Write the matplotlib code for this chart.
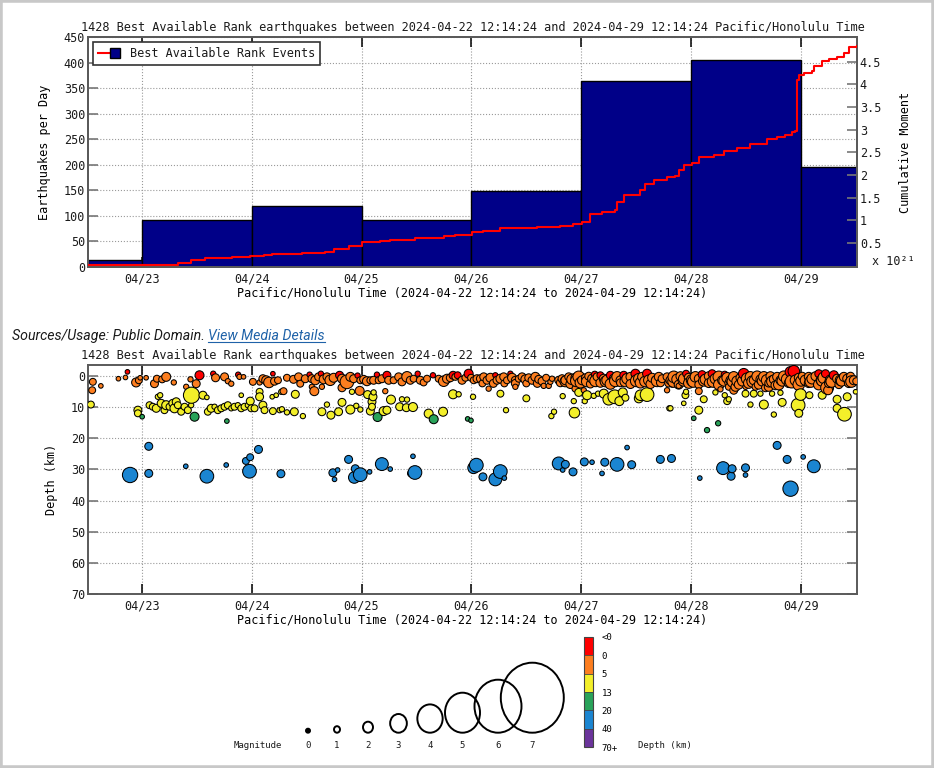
from datetime import datetime
import numpy as np
import matplotlib
matplotlib.use("Agg")
import matplotlib.pyplot as plt
import matplotlib.dates as mdates
from matplotlib.colors import ListedColormap, BoundaryNorm
from matplotlib.cm import ScalarMappable
from matplotlib.patches import Ellipse, Rectangle
from matplotlib.lines import Line2D
from matplotlib.legend_handler import HandlerTuple
from matplotlib.ticker import FormatStrFormatter

# times are fractional day of April 2024, Pacific/Honolulu
t_start, t_end = 22.510, 29.510

# events per day (histogram)
bin_edges = [22.510, 23, 24, 25, 26, 27, 28, 29, 29.510]
day_counts = [13, 92, 120, 92, 148, 363, 405, 195]

# cumulative moment, x 1e21
moment_day = [22.510, 23.106, 23.333, 23.446, 23.577, 23.820, 23.986, 24.108, 24.184, 24.457,
              24.669, 24.745, 24.882, 25.004, 25.170, 25.261, 25.489, 25.747, 25.853, 26.005,
              26.108, 26.263, 26.597, 26.809, 26.928, 27.007, 27.083, 27.189, 27.311, 27.326,
              27.386, 27.537, 27.582, 27.659, 27.781, 27.856, 27.887, 27.933, 28.009, 28.069,
              28.206, 28.297, 28.419, 28.540, 28.661, 28.692, 28.783, 28.859, 28.920, 28.950,
              28.965, 28.980, 29.025, 29.102, 29.117, 29.193, 29.253, 29.330, 29.390, 29.435,
              29.510]
moment_val = [0.01, 0.02, 0.05, 0.11, 0.16, 0.19, 0.20, 0.23, 0.25, 0.28,
              0.30, 0.36, 0.42, 0.52, 0.54, 0.57, 0.61, 0.66, 0.68, 0.73,
              0.76, 0.82, 0.84, 0.88, 0.91, 0.96, 1.13, 1.17, 1.22, 1.41,
              1.55, 1.67, 1.80, 1.89, 1.96, 1.98, 2.11, 2.22, 2.26, 2.40,
              2.44, 2.54, 2.59, 2.68, 2.69, 2.79, 2.83, 2.88, 2.96, 2.97,
              4.10, 4.21, 4.25, 4.29, 4.40, 4.51, 4.56, 4.61, 4.70, 4.82,
              4.86]

# events (day, depth km, magnitude)
ev_0422 = [
    (22.554, 1.9, 1.0), (22.548, 4.6, 1.0), (22.627, 3.2, 0.0), (22.787, 0.9, 0.0), (22.851, 0.5, 0.0),
    (22.869, -1.3, 0.0), (22.948, 2.1, 1.4), (22.973, 1.4, 1.0), (22.985, 0.6, 0.0), (23.039, 0.6, 0.0),
    (23.115, 2.5, 1.2), (23.137, 0.9, 1.0), (23.185, 1.1, 1.0), (23.222, 0.3, 1.4), (23.291, 2.1, 0.3),
    (23.404, 3.5, 0.3), (23.443, 1.1, 0.3), (23.495, 2.5, 1.2), (23.525, -0.2, 1.4), (23.650, -0.7, 0.3),
    (23.671, 0.6, 1.2), (23.753, 0.3, 1.2), (23.783, 1.7, 0.3), (23.814, 2.5, 0.3), (23.877, -0.4, 0.3),
    (23.889, 0.3, 0.3), (23.926, 0.3, 0.0), (24.011, 1.9, 1.0), (24.072, 2.1, 0.3), (24.102, 0.9, 1.2),
    (24.132, 1.4, 1.4), (24.157, 2.1, 1.7), (24.193, -0.7, 0.0), (24.208, 1.7, 1.2), (24.239, 1.4, 1.0),
    (22.536, 9.2, 1.0), (22.964, 11.0, 1.2), (22.964, 12.0, 1.0), (23.003, 13.1, 0.0), (23.070, 9.4, 1.0),
    (23.100, 9.9, 1.0), (23.131, 10.4, 1.2), (23.146, 6.7, 0.3), (23.167, 6.2, 0.3), (23.176, 8.8, 1.2),
    (23.206, 11.0, 1.0), (23.222, 9.4, 1.4), (23.252, 9.9, 1.0), (23.282, 8.8, 1.2), (23.297, 10.4, 1.4),
    (23.313, 8.3, 1.2), (23.328, 9.4, 1.0), (23.358, 11.5, 1.0), (23.389, 9.9, 1.0), (23.419, 11.0, 1.0),
    (23.449, 9.4, 0.3), (23.452, 6.2, 2.5), (23.556, 6.2, 1.2), (23.592, 6.9, 0.0), (23.480, 13.1, 1.4),
    (23.601, 11.5, 1.0), (23.631, 10.4, 1.2), (23.662, 9.9, 0.3), (23.692, 11.0, 1.0), (23.723, 10.4, 1.0),
    (23.753, 9.9, 1.0), (23.783, 9.4, 1.0), (23.814, 10.4, 0.3), (23.844, 9.9, 1.0), (23.874, 9.4, 0.3),
    (23.905, 10.4, 1.0), (23.935, 9.9, 1.0), (23.965, 9.4, 0.3), (23.996, 10.4, 1.0), (24.026, 10.4, 1.0),
    (23.774, 14.5, 0.0), (23.905, 6.2, 0.0), (23.987, 8.1, 1.2), (24.072, 5.1, 1.0), (24.072, 6.7, 1.2),
    (24.102, 9.4, 1.2), (24.117, 11.0, 1.0), (24.187, 6.7, 0.0), (24.223, 6.2, 0.0), (24.269, 5.1, 0.3),
    (24.193, 11.3, 1.0), (24.254, 11.0, 0.3),
]

ev_0424 = [
    (24.290, 4.9, 1.0), (24.321, 0.6, 1.0), (24.381, 1.1, 1.2), (24.427, 0.3, 1.2), (24.442, 2.5, 1.0),
    (24.488, 0.9, 1.2), (24.527, -0.4, 0.3), (24.548, 0.9, 1.2), (24.579, 1.4, 1.4), (24.609, 0.3, 1.2),
    (24.630, -0.7, 0.3), (24.655, 1.1, 1.4), (24.685, 0.3, 1.2), (24.715, 1.4, 1.7), (24.746, 0.6, 1.4),
    (24.800, -0.2, 1.2), (24.822, 0.9, 1.4), (24.867, 1.9, 2.2), (24.898, 0.3, 1.4), (24.928, 0.9, 1.2),
    (24.964, -0.1, 0.3), (24.989, 1.4, 1.0), (25.019, 1.1, 1.2), (25.049, 1.7, 1.4), (25.080, 1.4, 1.0),
    (25.110, 1.4, 1.2), (25.140, -0.4, 0.3), (25.156, 1.4, 1.0), (25.186, 0.9, 1.2), (25.231, -0.2, 1.2),
    (25.247, 1.4, 1.2), (25.292, 1.4, 1.0), (25.338, 0.3, 1.2), (25.368, 1.9, 1.2), (25.414, 0.3, 1.7),
    (25.444, 1.4, 1.2), (25.474, 0.9, 1.0), (25.511, -0.7, 0.3), (25.535, 1.4, 1.2), (25.565, 2.1, 1.0),
    (25.596, 0.9, 1.0), (25.650, -0.2, 0.3), (25.702, 0.9, 1.0), (25.748, 1.7, 1.7), (25.778, 0.9, 1.4),
    (25.808, 0.6, 1.2), (25.833, -0.2, 1.2), (25.854, 0.3, 1.0), (25.875, -0.2, 1.0), (25.915, 1.4, 1.2),
    (25.945, 0.6, 1.0), (25.975, -0.7, 1.4), (25.997, 0.6, 1.0), (26.021, 1.4, 1.0), (26.051, 0.9, 1.2),
    (24.548, 3.5, 0.3), (24.570, 4.9, 1.4), (24.639, 3.5, 0.3), (24.822, 3.8, 1.2), (24.983, 4.8, 1.4),
    (25.216, 4.9, 0.3),
    (24.397, 5.9, 1.2), (24.913, 5.1, 0.3), (25.055, 6.0, 1.2), (25.110, 5.3, 0.3), (25.104, 6.7, 1.2),
    (25.095, 8.3, 1.2), (25.268, 7.6, 1.4), (25.368, 7.5, 0.3), (25.414, 7.6, 0.3), (25.833, 5.9, 1.4),
    (25.884, 5.9, 0.3), (26.015, 6.7, 0.3), (24.275, 10.7, 0.3), (24.321, 11.7, 0.3), (24.388, 11.5, 1.2),
    (24.466, 12.9, 0.3), (24.639, 11.5, 1.2), (24.685, 9.2, 0.3), (24.721, 12.6, 1.2), (24.791, 11.5, 1.2),
    (24.822, 8.5, 1.2), (24.898, 10.8, 1.4), (24.952, 9.6, 0.3), (24.989, 10.8, 0.3), (25.080, 11.3, 1.2),
    (25.095, 9.9, 1.0), (25.201, 11.3, 1.4), (25.231, 11.0, 1.2), (25.347, 9.9, 1.2), (25.408, 10.2, 1.2),
    (25.468, 10.0, 1.4), (25.611, 12.1, 1.4), (25.742, 11.5, 1.4),
    (25.146, 13.2, 1.4), (25.657, 13.9, 1.4), (25.966, 13.8, 0.0), (25.996, 14.3, 0.0),
]

ev_0426 = [
    (26.082, 0.9, 1.2), (26.112, 0.3, 1.2), (26.142, 1.4, 1.2), (26.173, 0.6, 1.4), (26.218, -0.2, 0.3),
    (26.233, 1.4, 1.2), (26.264, 0.9, 1.4), (26.294, 0.3, 1.2), (26.324, 1.4, 1.0), (26.355, -0.7, 0.3),
    (26.370, 0.6, 1.4), (26.400, 1.4, 1.2), (26.431, 0.9, 1.0), (26.461, 0.3, 1.2), (26.491, 1.1, 1.4),
    (26.522, 0.6, 1.2), (26.552, 1.4, 1.2), (26.582, 0.3, 1.4), (26.613, 1.1, 1.2), (26.643, 1.7, 1.2),
    (26.680, 0.6, 1.0), (26.719, 1.9, 0.3), (26.658, 3.2, 0.3), (26.704, 3.2, 0.3), (26.734, 0.9, 0.3),
    (26.795, 1.4, 1.2), (26.825, 0.9, 1.2), (26.856, 1.4, 1.4), (26.886, 0.3, 1.2), (26.916, 1.1, 1.7),
    (26.947, 0.6, 1.4), (26.977, 0.3, 1.9), (27.007, 1.4, 1.4), (27.038, 0.6, 1.2), (27.068, 0.1, 1.2),
    (27.099, 0.9, 1.4), (27.123, -0.4, 1.0), (27.144, 0.3, 1.2), (27.174, -0.2, 1.0), (27.205, 0.9, 1.4),
    (27.235, 1.4, 1.7), (27.265, -0.2, 1.2), (27.296, 0.9, 1.4), (27.326, 0.3, 1.7), (27.357, 1.4, 1.4),
    (27.387, -0.2, 1.2), (27.417, 0.9, 1.7), (27.448, 0.3, 1.4), (27.493, -0.7, 1.4), (27.524, 0.9, 1.7),
    (27.554, 0.3, 1.4), (27.599, -0.7, 1.4), (27.615, 1.4, 1.7), (27.645, 0.6, 1.4), (27.675, 1.4, 1.2),
    (27.706, 0.3, 1.4), (27.736, 0.9, 1.2),
    (26.810, 2.2, 1.2), (26.901, 2.6, 1.4), (26.992, 2.2, 1.7), (27.083, 2.6, 1.2), (27.174, 2.2, 1.4),
    (27.265, 2.6, 1.7), (27.357, 2.2, 1.2), (27.448, 2.6, 1.4), (27.539, 2.2, 1.7), (27.630, 2.6, 1.4),
    (27.721, 2.2, 1.2), (26.10, 2.4, 1.0), (26.20, 2.4, 1.2), (26.30, 2.4, 1.0), (26.40, 2.4, 1.2),
    (26.50, 2.4, 1.0), (26.60, 2.4, 1.2),
    (26.855, 1.8, 1.7), (26.955, 1.6, 1.9), (27.050, 1.8, 1.7), (27.130, 1.6, 1.9), (27.220, 1.8, 1.7),
    (27.310, 1.6, 1.9), (27.400, 1.8, 1.7), (27.500, 1.6, 1.9), (27.580, 1.8, 1.7), (27.690, 1.6, 1.9),
    (26.157, 4.1, 0.3), (26.400, 3.5, 0.3), (26.947, 4.1, 1.0), (27.023, 4.6, 0.3),
    (26.264, 5.7, 1.0), (26.500, 7.2, 1.0), (26.315, 11.0, 0.3), (26.831, 6.5, 0.3), (26.752, 11.5, 0.3),
    (26.728, 12.9, 0.3), (26.938, 11.8, 1.7), (26.932, 8.1, 0.3), (26.977, 5.3, 1.2), (27.032, 8.1, 0.3),
    (27.053, 6.2, 1.4), (27.114, 6.4, 0.3), (27.153, 5.7, 0.3), (27.205, 5.7, 1.4), (27.250, 7.5, 1.9),
    (27.305, 6.7, 2.2), (27.347, 8.1, 1.4), (27.378, 5.3, 1.4), (27.402, 7.0, 1.0), (27.524, 7.2, 1.4),
    (27.539, 6.2, 1.7), (27.599, 6.0, 2.2), (27.812, 10.4, 0.3),
]

ev_0428 = [
    (27.781, 0.3, 1.2), (27.812, 1.4, 1.4), (27.842, 0.3, 1.9), (27.872, 1.1, 1.7), (27.903, 0.1, 1.4),
    (27.933, 0.9, 1.7), (27.954, -0.7, 1.0), (27.979, 0.6, 1.4), (28.009, 1.4, 1.9), (28.039, 0.3, 1.7),
    (28.070, 0.9, 1.4), (28.100, -0.4, 1.2), (28.130, 1.1, 1.7), (28.161, 0.1, 1.4), (28.191, -0.7, 1.2),
    (28.221, 0.9, 1.7), (28.252, 0.3, 1.9), (28.282, 1.4, 1.4), (28.306, -0.4, 1.0), (28.328, 0.6, 1.7),
    (28.358, 1.4, 1.4), (28.388, 0.3, 1.7), (28.404, 3.5, 1.4), (28.419, 1.7, 1.7), (28.449, 0.6, 1.4),
    (28.479, -0.7, 1.7), (28.510, 0.9, 1.9), (28.540, 0.3, 1.7), (28.570, 1.4, 1.4), (28.586, 3.5, 1.0),
    (28.601, 0.1, 1.7), (28.631, 1.1, 1.4), (28.662, 0.3, 1.7), (28.692, 1.4, 1.9), (28.707, 3.5, 1.4),
    (28.722, 0.1, 1.4), (28.753, 1.1, 1.4), (28.783, 0.3, 1.4), (28.813, 1.4, 1.4), (28.844, 0.1, 1.7),
    (28.874, 1.1, 1.9), (28.904, -1.3, 1.7), (28.935, -1.5, 1.9), (28.950, 1.4, 1.7), (28.980, 0.6, 1.4),
    (29.011, 0.1, 1.2), (29.041, 1.4, 1.7), (29.071, 0.3, 1.4), (29.102, 0.9, 1.7), (29.132, 0.1, 1.4),
    (29.162, -0.7, 1.2), (29.178, 1.4, 1.4), (29.208, 0.6, 1.9), (29.223, -0.7, 1.2), (29.238, 3.8, 2.1),
    (29.247, 4.6, 1.4), (29.269, 1.4, 1.7), (29.299, -0.2, 1.4), (29.329, 0.9, 1.4), (29.360, 1.4, 1.7),
    (29.390, 0.3, 1.4), (29.421, 0.9, 1.4), (29.451, 0.1, 1.2), (29.481, 1.4, 1.4), (29.503, 1.7, 1.0),
    (27.796, 2.3, 1.2), (27.887, 2.8, 1.4), (27.979, 2.3, 1.7), (28.070, 2.8, 1.2), (28.161, 2.3, 1.4),
    (28.252, 2.8, 1.7), (28.343, 2.3, 1.2), (28.434, 2.8, 1.4), (28.525, 2.3, 1.7), (28.616, 2.8, 1.4),
    (28.707, 2.3, 1.2), (28.798, 2.8, 1.7), (28.889, 2.3, 1.4), (28.980, 2.8, 1.9), (29.071, 2.3, 1.4),
    (29.162, 2.8, 1.7), (29.254, 2.3, 1.4), (29.345, 2.8, 1.2), (29.436, 2.3, 1.4),
    (27.840, 1.8, 1.9), (27.930, 1.6, 1.7), (28.020, 1.8, 1.9), (28.115, 1.6, 1.7), (28.200, 1.8, 1.9),
    (28.300, 1.6, 1.7), (28.380, 1.8, 1.9), (28.470, 1.6, 1.7), (28.560, 1.8, 1.9), (28.650, 1.6, 1.7),
    (28.740, 1.8, 1.9), (28.830, 1.6, 1.7), (28.915, 1.8, 2.1), (29.000, 1.6, 1.7), (29.090, 1.8, 1.9),
    (29.190, 1.6, 1.7), (29.280, 1.8, 1.9), (29.370, 1.6, 1.7), (29.460, 1.8, 1.9),
    (27.781, 4.6, 0.3), (27.827, 2.8, 0.3), (27.887, 3.2, 0.3), (28.070, 4.9, 1.0), (28.267, 4.3, 0.3),
    (28.343, 3.5, 1.0), (28.388, 4.6, 1.2), (28.495, 3.5, 0.3), (28.677, 3.8, 1.2), (28.768, 3.0, 1.4),
    (27.948, 6.2, 1.0), (27.954, 5.1, 0.3), (28.115, 7.5, 1.0), (28.070, 11.0, 1.2), (27.933, 8.8, 0.0),
    (27.802, 10.4, 0.3), (28.221, 5.3, 0.3), (28.306, 6.2, 0.3), (28.328, 8.1, 1.0), (28.343, 7.5, 0.3),
    (28.495, 5.7, 1.0), (28.540, 9.2, 0.3), (28.570, 5.7, 1.0), (28.631, 5.7, 0.3), (28.662, 9.2, 1.4),
    (28.737, 5.7, 0.3), (28.753, 12.4, 0.3), (28.813, 5.4, 0.3), (28.829, 8.5, 1.2), (28.996, 6.0, 1.9),
    (28.974, 9.4, 2.2), (28.980, 12.0, 1.2), (29.077, 6.2, 1.0), (29.193, 6.2, 1.2), (29.329, 7.5, 1.2),
    (29.329, 10.4, 1.2), (29.421, 6.7, 1.2), (29.396, 12.3, 2.2), (29.497, 5.1, 0.0),
    (28.024, 13.6, 0.0), (28.246, 15.2, 0.3), (28.145, 17.4, 0.3),
]

ev_deep = [
    (22.893, 31.8, 2.4), (23.063, 22.6, 1.2), (23.063, 31.3, 1.2), (23.400, 29.0, 0.0), (23.592, 32.2, 2.2),
    (23.768, 28.6, 0.0), (23.947, 27.3, 1.0), (23.986, 26.1, 1.0), (23.980, 30.6, 2.2), (24.062, 23.6, 1.2),
    (24.266, 31.4, 1.2), (24.739, 31.1, 1.2), (24.782, 30.2, 0.0), (24.754, 33.2, 0.0), (24.882, 26.8, 1.2),
    (24.943, 29.8, 1.2), (24.934, 32.6, 1.9), (24.988, 31.7, 2.2), (25.073, 30.8, 0.0), (25.185, 28.3, 2.1),
    (25.261, 29.9, 0.0), (25.468, 25.8, 0.0), (25.450, 31.3, 1.0), (25.486, 31.0, 2.2), (26.020, 29.5, 1.9),
    (26.045, 28.65, 2.2), (26.105, 32.4, 1.2), (26.218, 33.2, 2.1), (26.263, 30.7, 2.2), (26.300, 32.8, 0.0),
    (26.795, 28.1, 2.1), (26.855, 28.4, 1.2), (26.831, 30.2, 0.0), (26.925, 30.8, 1.2), (27.028, 27.6, 1.2),
    (27.098, 27.7, 0.0), (27.189, 31.3, 0.0), (27.214, 27.7, 1.2), (27.326, 28.4, 2.2), (27.417, 23.0, 0.0),
    (27.459, 28.5, 1.2), (27.720, 26.8, 1.2), (27.821, 26.5, 1.2), (28.079, 32.8, 0.0), (28.291, 29.6, 2.1),
    (28.373, 29.8, 1.2), (28.364, 32.2, 1.2), (28.495, 29.5, 1.2), (28.495, 31.8, 0.0), (28.783, 22.3, 1.2),
    (28.874, 26.8, 1.2), (28.905, 36.2, 2.4), (29.020, 26.0, 0.0), (29.117, 29.0, 2.1),
]

# depth classes and colors
depth_bins = [0, 5, 13, 20, 40]
depth_labels = ["<0", "0", "5", "13", "20", "40", "70+"]
depth_colors = ["#ff0000", "#fd7e1f", "#f3ef2a", "#29a35a", "#1b85d1", "#6b349b"]

# magnitude key
key_mags = [0, 1, 2, 3, 4, 5, 6, 7]
key_diam = [4, 6, 10.5, 17.5, 26, 37, 50, 66]

title = ("1428 Best Available Rank earthquakes between 2024-04-22 12:14:24 "
         "and 2024-04-29 12:14:24 Pacific/Honolulu Time")
xlab = "Pacific/Honolulu Time (2024-04-22 12:14:24 to 2024-04-29 12:14:24)"

plt.rcParams['font.family'] = ['DejaVu Sans Mono']
plt.rcParams['text.color'] = '#1a1a1a'

W, H = 934, 768
fig = plt.figure(figsize=(W / 100, H / 100), dpi=100)


def fx(px):
    return px / W


def fy(py):
    return 1 - py / H


base = mdates.date2num(datetime(2024, 4, 1))


def to_num(d):
    return base + np.asarray(d, dtype=float) - 1


def style_axes(a, right_ticks):
    a.set_xlim(to_num(t_start), to_num(t_end))
    a.xaxis.set_major_locator(mdates.DayLocator())
    a.xaxis.set_major_formatter(mdates.DateFormatter('%m/%d'))
    a.grid(True, linestyle=':', color='#9a9a9a', linewidth=0.8)
    a.set_axisbelow(True)
    a.tick_params(axis='x', direction='in', length=7, width=1.1, color='black',
                  top=True, pad=4, labelsize=8.5, labelcolor='#1a1a1a')
    a.tick_params(axis='y', direction='in', length=7, width=1.2, color='#777777',
                  right=right_ticks, pad=2, labelsize=8.5, labelcolor='#1a1a1a')
    for s in a.spines.values():
        s.set_color('#5a5a5a')
        s.set_linewidth(1.4)
    a.set_xlabel(xlab, fontsize=8.5, labelpad=1)
    a.set_title(title, fontsize=8.6, pad=4)


# ---- top: events per day + cumulative moment
ax = fig.add_axes([fx(88), fy(267), fx(857) - fx(88), (267 - 37) / H])
left = to_num(bin_edges[:-1])
widths = np.diff(bin_edges)
ax.bar(left, day_counts, width=widths, align='edge', color='#000088',
       edgecolor='black', linewidth=1, zorder=2)
ax.set_ylim(0, 450)
ax.set_yticks(range(0, 451, 50))
style_axes(ax, False)
ax.set_ylabel('Earthquakes per Day', fontsize=8.5, labelpad=9)

ax2 = ax.twinx()
ax2.step(to_num(moment_day), moment_val, where='post', color='red', linewidth=1.5, zorder=3)
ax2.set_ylim(-0.035, 5.05)
ax2.set_yticks(np.arange(0.5, 4.51, 0.5))
ax2.yaxis.set_major_formatter(FormatStrFormatter('%g'))
ax2.tick_params(axis='y', direction='in', length=7, width=1.2, color='#777777',
                pad=2, labelsize=8.5, labelcolor='#1a1a1a')
for s in ax2.spines.values():
    s.set_color('#5a5a5a')
    s.set_linewidth(1.4)
ax2.set_ylabel('Cumulative Moment', fontsize=8.5, labelpad=13)
ax2.text(1.02, 0.025, 'x 10\u00b2\u00b9', transform=ax2.transAxes, fontsize=8.5,
         ha='left', va='center')

h_line = Line2D([], [], color='red', linewidth=1.5)
h_box = Line2D([], [], linestyle='none', marker='s', markersize=6.5,
               markerfacecolor='#000088', markeredgecolor='black')
leg = ax2.legend([(h_line, h_box)], ['Best Available Rank Events'],
                 handler_map={tuple: HandlerTuple(ndivide=None, pad=0)},
                 loc='upper left', fontsize=8.5, fancybox=False, framealpha=1,
                 edgecolor='#333333', borderaxespad=0.45, handlelength=1.9,
                 handletextpad=0.8, borderpad=0.4)
leg.get_frame().set_linewidth(1.2)

# ---- bottom: depth vs time
events = ev_0422 + ev_0424 + ev_0426 + ev_0428 + ev_deep
events.sort(key=lambda e: e[0])
ev_day = np.array([e[0] for e in events])
ev_depth = np.array([e[1] for e in events])
ev_mag = np.array([e[2] for e in events])
ev_color = [depth_colors[i] for i in np.digitize(ev_depth, depth_bins)]
ev_size = (np.interp(ev_mag, key_mags, key_diam) * 0.72 * 1.15) ** 2

sax = fig.add_axes([fx(88), fy(594), fx(857) - fx(88), (594 - 365) / H])
sax.scatter(to_num(ev_day), ev_depth, s=ev_size, c=ev_color, edgecolors='black',
            linewidths=0.75, zorder=3)
sax.set_ylim(70, -3.5)
sax.set_yticks(range(0, 71, 10))
style_axes(sax, True)
sax.set_ylabel('Depth (km)', fontsize=8.5, labelpad=9)

# ---- sources line
src = fig.text(fx(12), fy(336), 'Sources/Usage: Public Domain. ', family='Roboto',
               style='italic', fontsize=10.2, va='center', color='#1a1a1a')
fig.canvas.draw()
bb = src.get_window_extent()
lnk = fig.text(bb.x1 / W, fy(336), 'View Media Details', family='Roboto',
               style='italic', fontsize=10.2, va='center', color='#1f62a8')
fig.canvas.draw()
lb = lnk.get_window_extent()
fig.add_artist(Line2D([lb.x0 / W, lb.x1 / W], [(lb.y0 + 1) / H, (lb.y0 + 1) / H],
                      color='#1f62a8', linewidth=0.8, transform=fig.transFigure))

# ---- magnitude key
kax = fig.add_axes([0, 0, 1, 1])
kax.set_xlim(0, W)
kax.set_ylim(H, 0)
kax.axis('off')
key_x = [308, 337, 368, 398.5, 430, 462.5, 498, 532.3]
key_w = [4, 6, 10, 16.7, 25.3, 35, 47, 63]
key_h = [4, 6.5, 11, 18.7, 28.3, 40, 53, 70]
for m, cx, w, h in zip(key_mags, key_x, key_w, key_h):
    kax.add_patch(Ellipse((cx, 732.7 - h / 2), w, h, fill=(m == 0), facecolor='black',
                          edgecolor='black', linewidth=1.4))
    kax.text(cx, 745, str(m), fontsize=6.5, ha='center', va='center')
kax.text(258, 745, 'Magnitude', fontsize=6.5, ha='center', va='center')
kax.text(638, 746, 'Depth (km)', fontsize=6.5, ha='left', va='center')

# ---- depth colorbar
cax = fig.add_axes([fx(584), fy(747.3), 9.3 / W, (747.3 - 636.7) / H])
cmap = ListedColormap(depth_colors[::-1])
norm = BoundaryNorm(range(7), 6)
cb = fig.colorbar(ScalarMappable(norm=norm, cmap=cmap), cax=cax, ticks=range(7),
                  drawedges=True)
cb.set_ticklabels(depth_labels[::-1])
cax.tick_params(length=0, labelsize=6.5, pad=6)
cb.outline.set_edgecolor('#444444')
cb.outline.set_linewidth(0.8)
cb.dividers.set_color('#444444')
cb.dividers.set_linewidth(0.6)

# frame around the page
fig.add_artist(Rectangle((0, 0), 1, 1, transform=fig.transFigure, fill=False,
                         edgecolor='#c8c8c8', linewidth=4))

fig.savefig('out.png', dpi=100)
